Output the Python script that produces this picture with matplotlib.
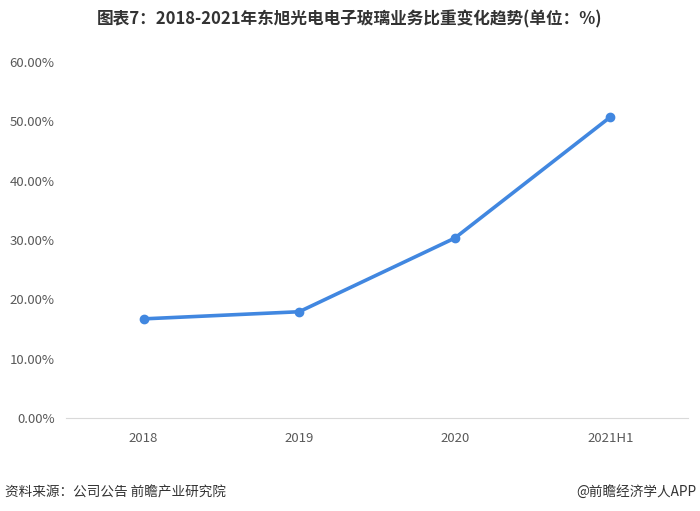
import matplotlib.pyplot as plt
from matplotlib.ticker import FuncFormatter

plt.rcParams['font.family'] = ['Noto Sans CJK SC', 'DejaVu Sans']

# data
years = ['2018', '2019', '2020', '2021H1']
share = [16.7, 17.9, 30.3, 50.7]
yticks = [0, 10, 20, 30, 40, 50, 60]

fig = plt.figure(figsize=(7, 5.11), dpi=100)
ax = fig.add_axes([0.094, 0.182, 0.889, 0.697])

x = range(len(years))
ax.plot(x, share, color='#4187e0', linewidth=2.6, marker='o', markersize=6,
        solid_capstyle='round')

ax.set_xlim(-0.5, len(years) - 0.5)
ax.set_ylim(0, 60)
ax.set_xticks(list(x))
ax.set_xticklabels(years)
ax.set_yticks(yticks)
ax.yaxis.set_major_formatter(FuncFormatter(lambda v, p: f'{v:.2f}%'))

for s in ['top', 'right', 'left']:
    ax.spines[s].set_visible(False)
ax.spines['bottom'].set_color('#d9d9d9')
ax.tick_params(axis='both', length=0, colors='#595959', labelsize=9.5)
ax.tick_params(axis='x', pad=10)
ax.tick_params(axis='y', pad=8)

fig.text(0.5, 0.962, '图表7：2018-2021年东旭光电电子玻璃业务比重变化趋势(单位：%)',
         ha='center', va='center', fontsize=12, fontweight='bold', color='#333333')
fig.text(0.007, 0.037, '资料来源：公司公告 前瞻产业研究院', ha='left', va='center',
         fontsize=9.8, color='#333333')
fig.text(0.995, 0.037, '@前瞻经济学人APP', ha='right', va='center',
         fontsize=9.8, color='#333333')

fig.savefig('out.png', dpi=100)
